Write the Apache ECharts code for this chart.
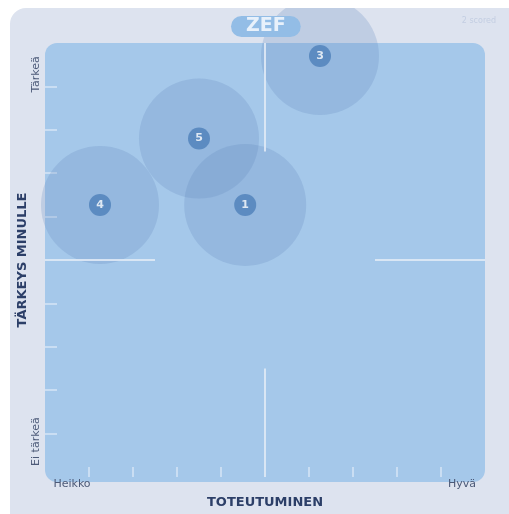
<!DOCTYPE html>
<html style="height: 100%">
<head>
  <meta charset="utf-8">
  <script type="text/javascript" src="https://cdn.jsdelivr.net/npm/echarts/dist/echarts.min.js"></script>
</head>
<body style="margin: 0; height: 100%; background: #fff">
  <div id="container" style="width: 509px; height: 514px"></div>
  <script type="text/javascript">
    // bubbles: numbers, x = toteutuminen, y = tarkeys
    var names = ['1', '3', '4', '5'];
    var xValues = [4.55, 6.25, 1.25, 3.5];
    var yValues = [6.27, 9.7, 6.27, 7.8];
    var sizes = [122, 118, 118, 120];
    var xTickLabels = { 1: 'Heikko', 9: 'Hyvä' };
    var yTickLabels = { 9: 'Tärkeä', 1: 'Ei tärkeä' };
    var minorTicks = [1, 2, 3, 4, 6, 7, 8, 9];
    // centre cross, broken in the middle
    var crossSegments = [
      [[5, 10], [5, 7.5]],
      [[5, 2.5], [5, 0]],
      [[0, 5], [2.5, 5]],
      [[7.5, 5], [10, 5]]
    ];

    var dom = document.getElementById("container");
    var myChart = echarts.init(dom);
    var font = 'DejaVu Sans';

    var bubbleData = [];
    for (var i = 0; i < names.length; i++) {
      bubbleData.push({ name: names[i], value: [xValues[i], yValues[i]], symbolSize: sizes[i] });
    }
    var lines = [];
    for (var j = 0; j < crossSegments.length; j++) {
      lines.push([{ coord: crossSegments[j][0] }, { coord: crossSegments[j][1] }]);
    }

    var option = {
      animation: false,
      textStyle: { fontFamily: font },
      title: [{
        text: 'ZEF',
        left: 231,
        top: 16,
        padding: [1, 15, 1, 15],
        backgroundColor: '#93bde6',
        borderRadius: 12,
        textStyle: { color: '#e8f1fb', fontSize: 19, fontWeight: 'bold', fontFamily: font }
      }, {
        text: '2 scored',
        right: 8,
        top: 12,
        textStyle: { color: '#c3cee2', fontSize: 8, fontWeight: 'normal', fontFamily: font }
      }],
      graphic: [{
        type: 'rect', z: -10, silent: true,
        shape: { x: 10, y: 8, width: 530, height: 530, r: 16 },
        style: { fill: '#dde3ef' }
      }, {
        type: 'rect', z: -9, silent: true,
        shape: { x: 45, y: 43, width: 440, height: 439, r: 12 },
        style: { fill: '#a5c8ea' }
      }, {
        type: 'rect', z: 100, silent: true,
        shape: { x: 0, y: 0, width: 509, height: 8 },
        style: { fill: '#ffffff' }
      }],
      grid: { left: 45, right: 24, top: 43, bottom: 31 },
      xAxis: {
        type: 'value', min: 0, max: 10, interval: 1,
        name: 'TOTEUTUMINEN', nameLocation: 'middle', nameGap: 19,
        nameTextStyle: { color: '#2c3f68', fontWeight: 'bold', fontSize: 13, fontFamily: font },
        axisLine: { show: false },
        splitLine: { show: false },
        axisTick: {
          show: true, inside: true, length: 10, customValues: minorTicks,
          lineStyle: { color: 'rgba(255,255,255,0.55)', width: 1.5 }
        },
        axisLabel: {
          customValues: [1, 9], margin: 2,
          formatter: function (v) {
            return v === 1 ? '{l|' + xTickLabels[v] + '}' : '{r|' + xTickLabels[v] + '}';
          },
          rich: {
            l: { color: '#4c5a78', fontSize: 11, fontFamily: font, padding: [0, 34, 0, 0] },
            r: { color: '#4c5a78', fontSize: 11, fontFamily: font, padding: [0, 0, 0, 42] }
          }
        }
      },
      yAxis: {
        type: 'value', min: 0, max: 10, interval: 1,
        name: 'TÄRKEYS MINULLE', nameLocation: 'middle', nameGap: 16,
        nameMoveOverlap: false,
        nameTextStyle: { color: '#2c3f68', fontWeight: 'bold', fontSize: 13, fontFamily: font },
        axisLine: { show: false },
        splitLine: { show: false },
        axisTick: {
          show: true, inside: true, length: 12, customValues: minorTicks,
          lineStyle: { color: 'rgba(255,255,255,0.55)', width: 1.5 }
        },
        axisLabel: {
          customValues: [1, 9], margin: 3, rotate: 90,
          formatter: function (v) {
            return v === 9 ? '{t|' + yTickLabels[v] + '}' : '{e|' + yTickLabels[v] + '}';
          },
          rich: {
            t: { color: '#4c5a78', fontSize: 11, fontFamily: font, padding: [0, 0, 0, 24] },
            e: { color: '#4c5a78', fontSize: 11, fontFamily: font, padding: [0, 16, 0, 0] }
          }
        }
      },
      series: [{
        type: 'scatter',
        z: 1,
        data: [],
        silent: true,
        markLine: {
          silent: true,
          symbol: 'none',
          label: { show: false },
          lineStyle: { color: '#dfe9f5', width: 2, type: 'solid', opacity: 0.9 },
          data: lines
        }
      }, {
        type: 'scatter',
        z: 3,
        data: bubbleData,
        itemStyle: { color: 'rgba(100,136,190,0.3)' },
        label: {
          show: true,
          position: 'inside',
          formatter: '{b}',
          color: '#ffffff',
          fontSize: 11,
          fontWeight: 'bold',
          fontFamily: font,
          backgroundColor: '#4d80b9',
          borderRadius: 11,
          width: 22,
          height: 22,
          lineHeight: 22,
          align: 'center'
        }
      }]
    };
    myChart.setOption(option);
  </script>
</body>
</html>
